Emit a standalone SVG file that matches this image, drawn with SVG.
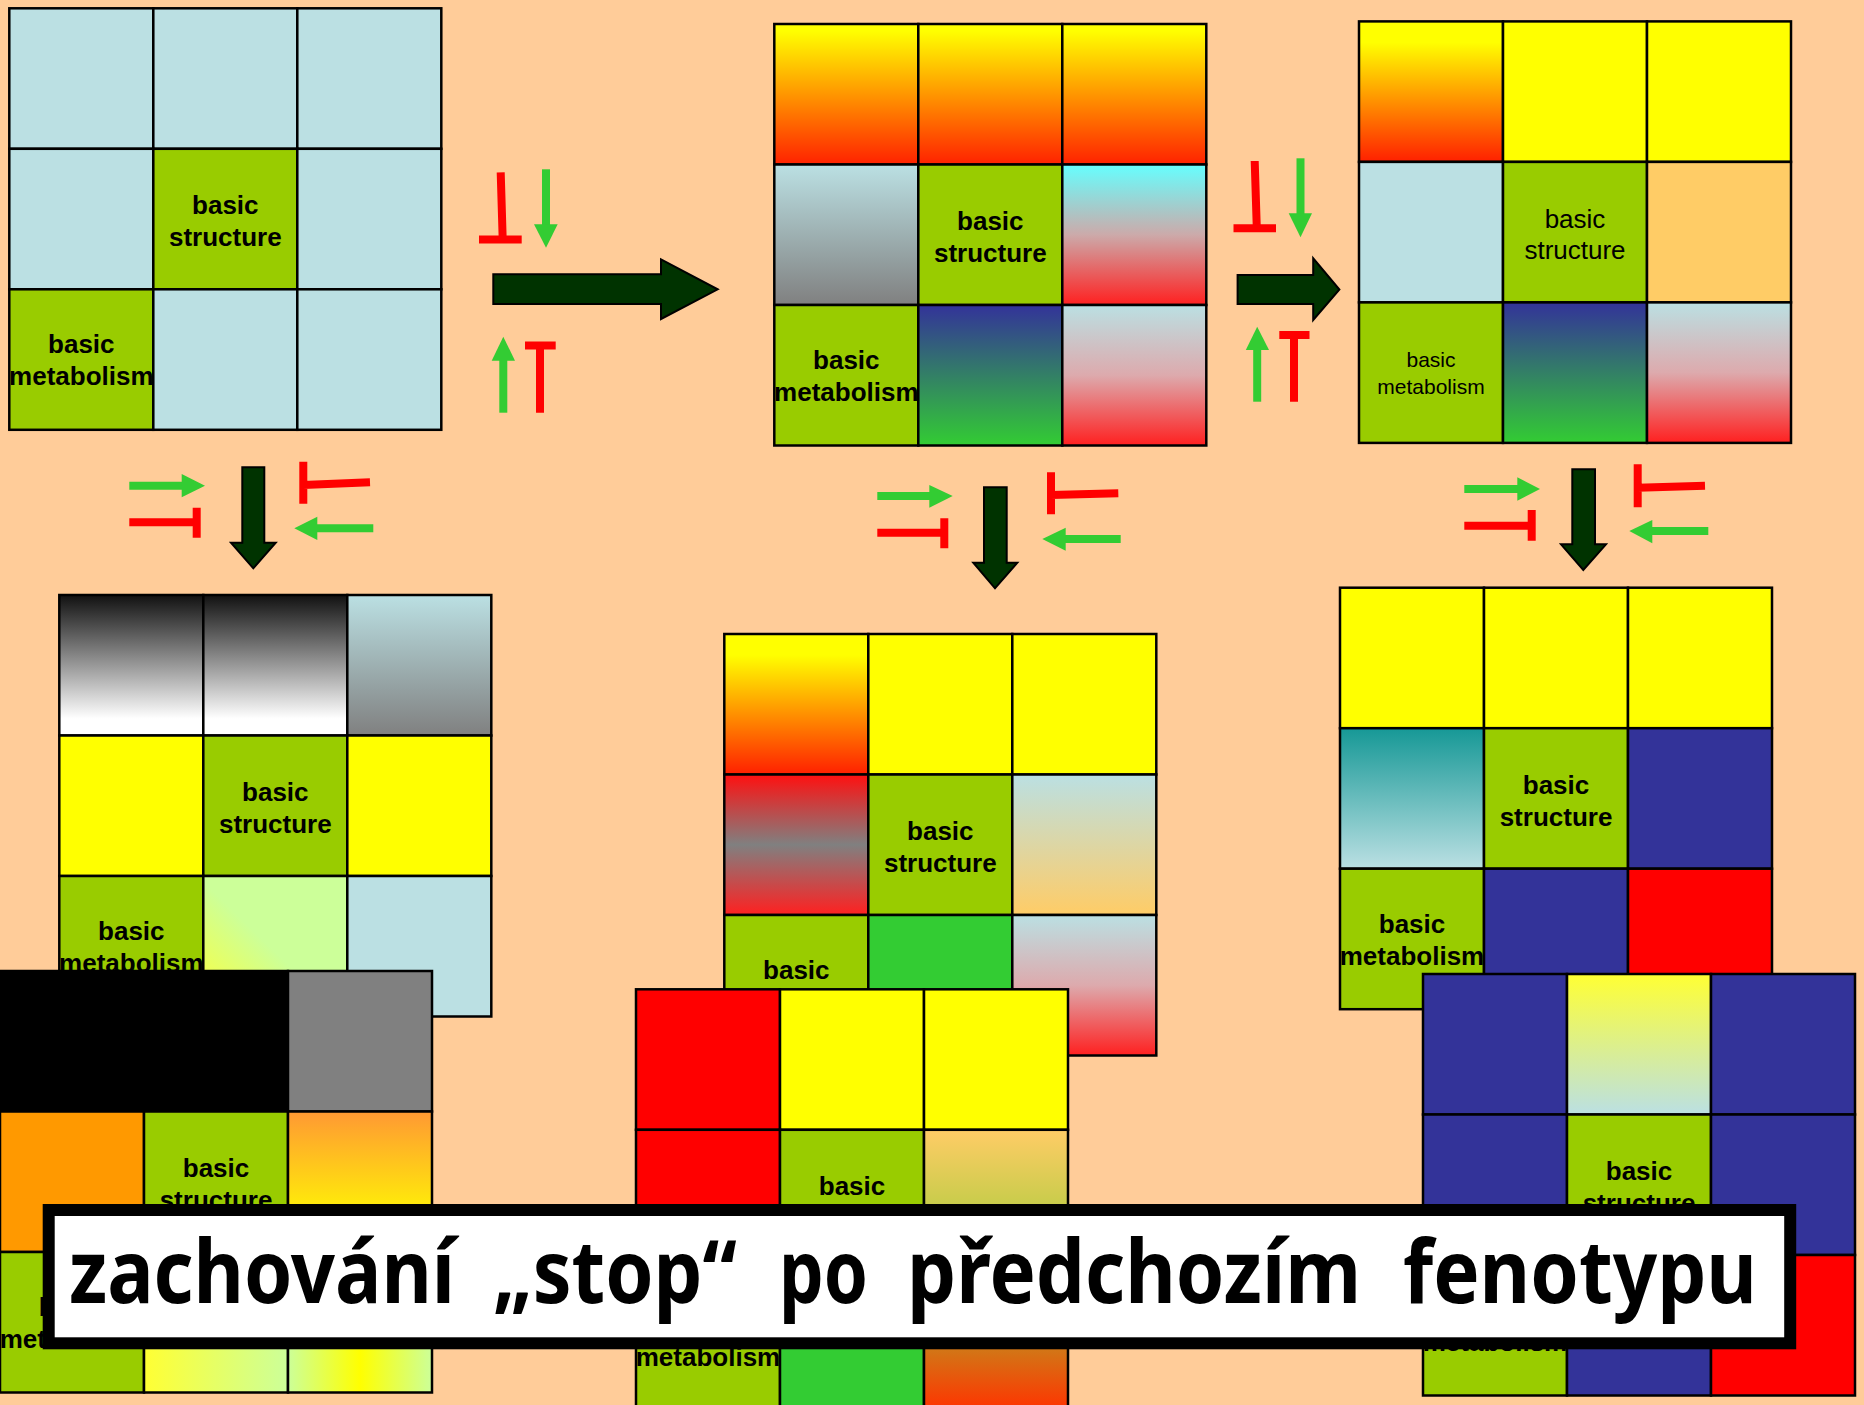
<svg xmlns="http://www.w3.org/2000/svg" width="1864" height="1405" viewBox="0 0 1864 1405">
<style>
.c{stroke:#000;stroke-width:2.5}
.lb{fill:#BBE0E3}.gr{fill:#99CC00}.yl{fill:#FFFF00}.bl{fill:#333399}.rd{fill:#FF0000}.g2{fill:#33CC33}.or{fill:#FFCC66}.gy{fill:#808080}.bk{fill:#000}.o2{fill:#FF9900}
.tb{font-family:"Liberation Sans",Arial,sans-serif;font-weight:bold;font-size:26px;text-anchor:middle;fill:#000}
.tr{font-family:"Liberation Sans",Arial,sans-serif;font-size:26px;text-anchor:middle;fill:#000}
.ts{font-family:"Liberation Sans",Arial,sans-serif;font-size:21px;text-anchor:middle;fill:#000}
.big{fill:#003300;stroke:#000;stroke-width:2}
.rl{stroke:#FF0000;stroke-width:8;fill:none}
.gl{stroke:#33CC33;stroke-width:8;fill:none}
.gh{fill:#33CC33}
.cap{font-family:"Noto Sans","DejaVu Sans",sans-serif;font-weight:bold;font-size:88px;fill:#000}
</style>
<defs>
<linearGradient id="gYR" x1="0" y1="0" x2="0" y2="1"><stop offset="0.05" stop-color="#FFFF00"/><stop offset="1" stop-color="#FF2200"/></linearGradient>
<linearGradient id="gYR2" x1="0" y1="0" x2="0" y2="1"><stop offset="0.15" stop-color="#FFFF00"/><stop offset="1" stop-color="#FF2000"/></linearGradient>
<linearGradient id="gLbGy" x1="0" y1="0" x2="0" y2="1"><stop offset="0" stop-color="#BBE0E3"/><stop offset="1" stop-color="#808080"/></linearGradient>
<linearGradient id="gCyR" x1="0" y1="0" x2="0" y2="1"><stop offset="0" stop-color="#66FFFF"/><stop offset="0.5" stop-color="#CCAAAA"/><stop offset="1" stop-color="#FF2020"/></linearGradient>
<linearGradient id="gBG" x1="0" y1="0" x2="0" y2="1"><stop offset="0" stop-color="#333399"/><stop offset="1" stop-color="#33CC33"/></linearGradient>
<linearGradient id="gLbR" x1="0" y1="0" x2="0" y2="1"><stop offset="0" stop-color="#BBE0E3"/><stop offset="0.5" stop-color="#DDAAAD"/><stop offset="1" stop-color="#FF2020"/></linearGradient>
<linearGradient id="gBW" x1="0" y1="0" x2="0" y2="1"><stop offset="0" stop-color="#111111"/><stop offset="0.88" stop-color="#FFFFFF"/></linearGradient>
<linearGradient id="gRGR" x1="0" y1="0" x2="0" y2="1"><stop offset="0" stop-color="#FF1010"/><stop offset="0.5" stop-color="#808080"/><stop offset="1" stop-color="#FF2020"/></linearGradient>
<linearGradient id="gLbO" x1="0" y1="0" x2="0" y2="1"><stop offset="0" stop-color="#BBE0E3"/><stop offset="1" stop-color="#FFCC66"/></linearGradient>
<linearGradient id="gTL" x1="0" y1="0" x2="0" y2="1"><stop offset="0" stop-color="#169896"/><stop offset="1" stop-color="#BBE0E3"/></linearGradient>
<linearGradient id="gOY" x1="0" y1="0" x2="0" y2="1"><stop offset="0" stop-color="#FF9933"/><stop offset="0.85" stop-color="#FFFF00"/></linearGradient>
<linearGradient id="gYLg" x1="0" y1="0" x2="1" y2="0"><stop offset="0" stop-color="#FFFF33"/><stop offset="1" stop-color="#CCFF99"/></linearGradient>
<linearGradient id="gLgYLg" x1="0" y1="0" x2="1" y2="0"><stop offset="0" stop-color="#CCFF99"/><stop offset="0.5" stop-color="#FFFF00"/><stop offset="1" stop-color="#CCFF99"/></linearGradient>
<linearGradient id="gDiag" x1="0" y1="1" x2="0.8" y2="0.2"><stop offset="0" stop-color="#FFFF33"/><stop offset="0.6" stop-color="#CCFF99"/></linearGradient>
<linearGradient id="gOOl" x1="0" y1="0" x2="0" y2="1"><stop offset="0" stop-color="#FFCC66"/><stop offset="1" stop-color="#99CC33"/></linearGradient>
<linearGradient id="gOlR" x1="0" y1="0" x2="0" y2="1"><stop offset="0" stop-color="#99CC33"/><stop offset="1" stop-color="#FF3300"/></linearGradient>
<linearGradient id="gYLb" x1="0" y1="0" x2="0" y2="1"><stop offset="0" stop-color="#FFFF33"/><stop offset="1" stop-color="#BBE0E3"/></linearGradient>
</defs>
<rect x="0" y="0" width="1864" height="1405" fill="#FFCC99"/>

<g id="grid1" transform="translate(9.3,8.3)">
<rect class="c lb" x="0" y="0" width="144" height="140.5"/><rect class="c lb" x="144" y="0" width="144" height="140.5"/><rect class="c lb" x="288" y="0" width="144" height="140.5"/>
<rect class="c lb" x="0" y="140.5" width="144" height="140.5"/><rect class="c gr" x="144" y="140.5" width="144" height="140.5"/><rect class="c lb" x="288" y="140.5" width="144" height="140.5"/>
<rect class="c gr" x="0" y="281" width="144" height="140.5"/><rect class="c lb" x="144" y="281" width="144" height="140.5"/><rect class="c lb" x="288" y="281" width="144" height="140.5"/>
<text class="tb" x="216" y="206">basic</text><text class="tb" x="216" y="238">structure</text>
<text class="tb" x="72" y="345">basic</text><text class="tb" x="72" y="377">metabolism</text>
</g>

<g id="grid2" transform="translate(774.3,24)">
<rect class="c" fill="url(#gYR)" x="0" y="0" width="144" height="140.5"/><rect class="c" fill="url(#gYR)" x="144" y="0" width="144" height="140.5"/><rect class="c" fill="url(#gYR)" x="288" y="0" width="144" height="140.5"/>
<rect class="c" fill="url(#gLbGy)" x="0" y="140.5" width="144" height="140.5"/><rect class="c gr" x="144" y="140.5" width="144" height="140.5"/><rect class="c" fill="url(#gCyR)" x="288" y="140.5" width="144" height="140.5"/>
<rect class="c gr" x="0" y="281" width="144" height="140.5"/><rect class="c" fill="url(#gBG)" x="144" y="281" width="144" height="140.5"/><rect class="c" fill="url(#gLbR)" x="288" y="281" width="144" height="140.5"/>
<text class="tb" x="216" y="206">basic</text><text class="tb" x="216" y="238">structure</text>
<text class="tb" x="72" y="345">basic</text><text class="tb" x="72" y="377">metabolism</text>
</g>

<g id="grid3" transform="translate(1359,21.4)">
<rect class="c" fill="url(#gYR2)" x="0" y="0" width="144" height="140.5"/><rect class="c yl" x="144" y="0" width="144" height="140.5"/><rect class="c yl" x="288" y="0" width="144" height="140.5"/>
<rect class="c lb" x="0" y="140.5" width="144" height="140.5"/><rect class="c gr" x="144" y="140.5" width="144" height="140.5"/><rect class="c or" x="288" y="140.5" width="144" height="140.5"/>
<rect class="c gr" x="0" y="281" width="144" height="140.5"/><rect class="c" fill="url(#gBG)" x="144" y="281" width="144" height="140.5"/><rect class="c" fill="url(#gLbR)" x="288" y="281" width="144" height="140.5"/>
<text class="tr" x="216" y="207">basic</text><text class="tr" x="216" y="238">structure</text>
<text class="ts" x="72" y="346">basic</text><text class="ts" x="72" y="373">metabolism</text>
</g>

<g id="grid4" transform="translate(59.3,595)">
<rect class="c" fill="url(#gBW)" x="0" y="0" width="144" height="140.5"/><rect class="c" fill="url(#gBW)" x="144" y="0" width="144" height="140.5"/><rect class="c" fill="url(#gLbGy)" x="288" y="0" width="144" height="140.5"/>
<rect class="c yl" x="0" y="140.5" width="144" height="140.5"/><rect class="c gr" x="144" y="140.5" width="144" height="140.5"/><rect class="c yl" x="288" y="140.5" width="144" height="140.5"/>
<rect class="c gr" x="0" y="281" width="144" height="140.5"/><rect class="c" fill="url(#gDiag)" x="144" y="281" width="144" height="140.5"/><rect class="c lb" x="288" y="281" width="144" height="140.5"/>
<text class="tb" x="216" y="206">basic</text><text class="tb" x="216" y="238">structure</text>
<text class="tb" x="72" y="345">basic</text><text class="tb" x="72" y="377">metabolism</text>
</g>

<g id="grid5" transform="translate(724.3,634)">
<rect class="c" fill="url(#gYR2)" x="0" y="0" width="144" height="140.5"/><rect class="c yl" x="144" y="0" width="144" height="140.5"/><rect class="c yl" x="288" y="0" width="144" height="140.5"/>
<rect class="c" fill="url(#gRGR)" x="0" y="140.5" width="144" height="140.5"/><rect class="c gr" x="144" y="140.5" width="144" height="140.5"/><rect class="c" fill="url(#gLbO)" x="288" y="140.5" width="144" height="140.5"/>
<rect class="c gr" x="0" y="281" width="144" height="140.5"/><rect class="c g2" x="144" y="281" width="144" height="140.5"/><rect class="c" fill="url(#gLbR)" x="288" y="281" width="144" height="140.5"/>
<text class="tb" x="216" y="206">basic</text><text class="tb" x="216" y="238">structure</text>
<text class="tb" x="72" y="345">basic</text><text class="tb" x="72" y="377">metabolism</text>
</g>

<g id="grid6" transform="translate(1340,587.7)">
<rect class="c yl" x="0" y="0" width="144" height="140.5"/><rect class="c yl" x="144" y="0" width="144" height="140.5"/><rect class="c yl" x="288" y="0" width="144" height="140.5"/>
<rect class="c" fill="url(#gTL)" x="0" y="140.5" width="144" height="140.5"/><rect class="c gr" x="144" y="140.5" width="144" height="140.5"/><rect class="c bl" x="288" y="140.5" width="144" height="140.5"/>
<rect class="c gr" x="0" y="281" width="144" height="140.5"/><rect class="c bl" x="144" y="281" width="144" height="140.5"/><rect class="c rd" x="288" y="281" width="144" height="140.5"/>
<text class="tb" x="216" y="206">basic</text><text class="tb" x="216" y="238">structure</text>
<text class="tb" x="72" y="345">basic</text><text class="tb" x="72" y="377">metabolism</text>
</g>

<g id="grid7" transform="translate(0,971)">
<rect class="c bk" x="0" y="0" width="144" height="140.5"/><rect class="c bk" x="144" y="0" width="144" height="140.5"/><rect class="c gy" x="288" y="0" width="144" height="140.5"/>
<rect class="c o2" x="0" y="140.5" width="144" height="140.5"/><rect class="c gr" x="144" y="140.5" width="144" height="140.5"/><rect class="c" fill="url(#gOY)" x="288" y="140.5" width="144" height="140.5"/>
<rect class="c gr" x="0" y="281" width="144" height="140.5"/><rect class="c" fill="url(#gYLg)" x="144" y="281" width="144" height="140.5"/><rect class="c" fill="url(#gLgYLg)" x="288" y="281" width="144" height="140.5"/>
<text class="tb" x="216" y="206">basic</text><text class="tb" x="216" y="238">structure</text>
<text class="tb" x="72" y="345">basic</text><text class="tb" x="72" y="377">metabolism</text>
</g>

<g id="grid8" transform="translate(636,989.3)">
<rect class="c rd" x="0" y="0" width="144" height="140.5"/><rect class="c yl" x="144" y="0" width="144" height="140.5"/><rect class="c yl" x="288" y="0" width="144" height="140.5"/>
<rect class="c rd" x="0" y="140.5" width="144" height="140.5"/><rect class="c gr" x="144" y="140.5" width="144" height="140.5"/><rect class="c" fill="url(#gOOl)" x="288" y="140.5" width="144" height="140.5"/>
<rect class="c gr" x="0" y="281" width="144" height="140.5"/><rect class="c g2" x="144" y="281" width="144" height="140.5"/><rect class="c" fill="url(#gOlR)" x="288" y="281" width="144" height="140.5"/>
<text class="tb" x="216" y="206">basic</text><text class="tb" x="216" y="238">structure</text>
<text class="tb" x="72" y="345">basic</text><text class="tb" x="72" y="377">metabolism</text>
</g>

<g id="grid9" transform="translate(1423,974)">
<rect class="c bl" x="0" y="0" width="144" height="140.5"/><rect class="c" fill="url(#gYLb)" x="144" y="0" width="144" height="140.5"/><rect class="c bl" x="288" y="0" width="144" height="140.5"/>
<rect class="c bl" x="0" y="140.5" width="144" height="140.5"/><rect class="c gr" x="144" y="140.5" width="144" height="140.5"/><rect class="c bl" x="288" y="140.5" width="144" height="140.5"/>
<rect class="c gr" x="0" y="281" width="144" height="140.5"/><rect class="c bl" x="144" y="281" width="144" height="140.5"/><rect class="c rd" x="288" y="281" width="144" height="140.5"/>
<text class="tb" x="216" y="206">basic</text><text class="tb" x="216" y="238">structure</text>
<text class="tb" x="72" y="345">basic</text><text class="tb" x="72" y="377">metabolism</text>
</g>

<g id="connectors">
<path class="big" d="M493.3,274.3 H661 V259.3 L717.7,289.3 L661,319 V304 H493.3 Z"/>
<path class="big" d="M1237.6,275 H1313.2 V258.3 L1339.4,289.5 L1313.2,320 V304 H1237.6 Z"/>
<path class="big" d="M242.3,467.3 H264.3 V542.7 H275.7 L253.3,568.3 L231,542.7 H242.3 Z"/>
<path class="big" d="M984,487.3 H1006.7 V562.7 H1017.3 L995,588.3 L973.3,562.7 H984 Z"/>
<path class="big" d="M1572.3,469.3 H1595 V544.3 H1606 L1583.3,570 L1561,544.3 H1572.3 Z"/>

<path class="rl" d="M500.7,172.3 L502.7,239.5 M479,239.5 H521.7"/>
<path class="gl" d="M546,169.3 V226"/><polygon class="gh" points="534,224.3 557.7,224.3 546,247.7"/>
<path class="gl" d="M503.3,412.7 V359"/><polygon class="gh" points="491.7,360.7 515,360.7 503.3,336.7"/>
<path class="rl" d="M540,412.7 V345.5 M525,345.5 H555.7"/>

<path class="rl" d="M1254.7,161 L1256.8,228.3 M1233.5,228.3 H1276"/>
<path class="gl" d="M1300.5,158.3 V215"/><polygon class="gh" points="1288.7,213.3 1312,213.3 1300.5,237.3"/>
<path class="gl" d="M1257.2,401.7 V348"/><polygon class="gh" points="1245.8,350 1269,350 1257.2,326.7"/>
<path class="rl" d="M1294,401.7 V335 M1279.3,335 H1309.5"/>

<path class="gl" d="M129.3,485.7 H183"/><polygon class="gh" points="181.7,474 181.7,497.3 205,485.7"/>
<path class="rl" d="M129.3,522.3 H196.7 M196.7,507.7 V537.7"/>
<path class="rl" d="M303.3,461.7 V503.7 M303.3,485 L370,482.3"/>
<path class="gl" d="M373.3,528.3 H316"/><polygon class="gh" points="317.3,516.7 317.3,540 294.3,528.3"/>

<path class="gl" d="M877.3,496 H931"/><polygon class="gh" points="929.3,485 929.3,507.7 952.7,496"/>
<path class="rl" d="M877.3,532.7 H944.3 M944.3,518.3 V548.3"/>
<path class="rl" d="M1051,472.3 V514.3 M1051,495 L1118.3,493.3"/>
<path class="gl" d="M1120.7,539 H1064"/><polygon class="gh" points="1065.7,527.7 1065.7,550.7 1042.3,539"/>

<path class="gl" d="M1464.3,489 H1519"/><polygon class="gh" points="1517.3,477.3 1517.3,500.7 1540,489"/>
<path class="rl" d="M1464.3,525.7 H1531.7 M1531.7,510 V540.7"/>
<path class="rl" d="M1637.7,464.3 V507.3 M1637.7,487.7 L1705,485.7"/>
<path class="gl" d="M1708.3,531 H1651"/><polygon class="gh" points="1652.3,520 1652.3,543.3 1629.3,531"/>
</g>

<g id="caption">
<rect x="48.7" y="1210" width="1741.5" height="133.3" fill="#FFFFFF" stroke="#000" stroke-width="12"/>
<text class="cap" x="69" y="1303" textLength="386" lengthAdjust="spacingAndGlyphs">zachování</text>
<text class="cap" x="493" y="1303" textLength="244" lengthAdjust="spacingAndGlyphs">„stop“</text>
<text class="cap" x="779" y="1303" textLength="89" lengthAdjust="spacingAndGlyphs">po</text>
<text class="cap" x="907" y="1303" textLength="454" lengthAdjust="spacingAndGlyphs">předchozím</text>
<text class="cap" x="1403" y="1303" textLength="354" lengthAdjust="spacingAndGlyphs">fenotypu</text>
</g>
</svg>
